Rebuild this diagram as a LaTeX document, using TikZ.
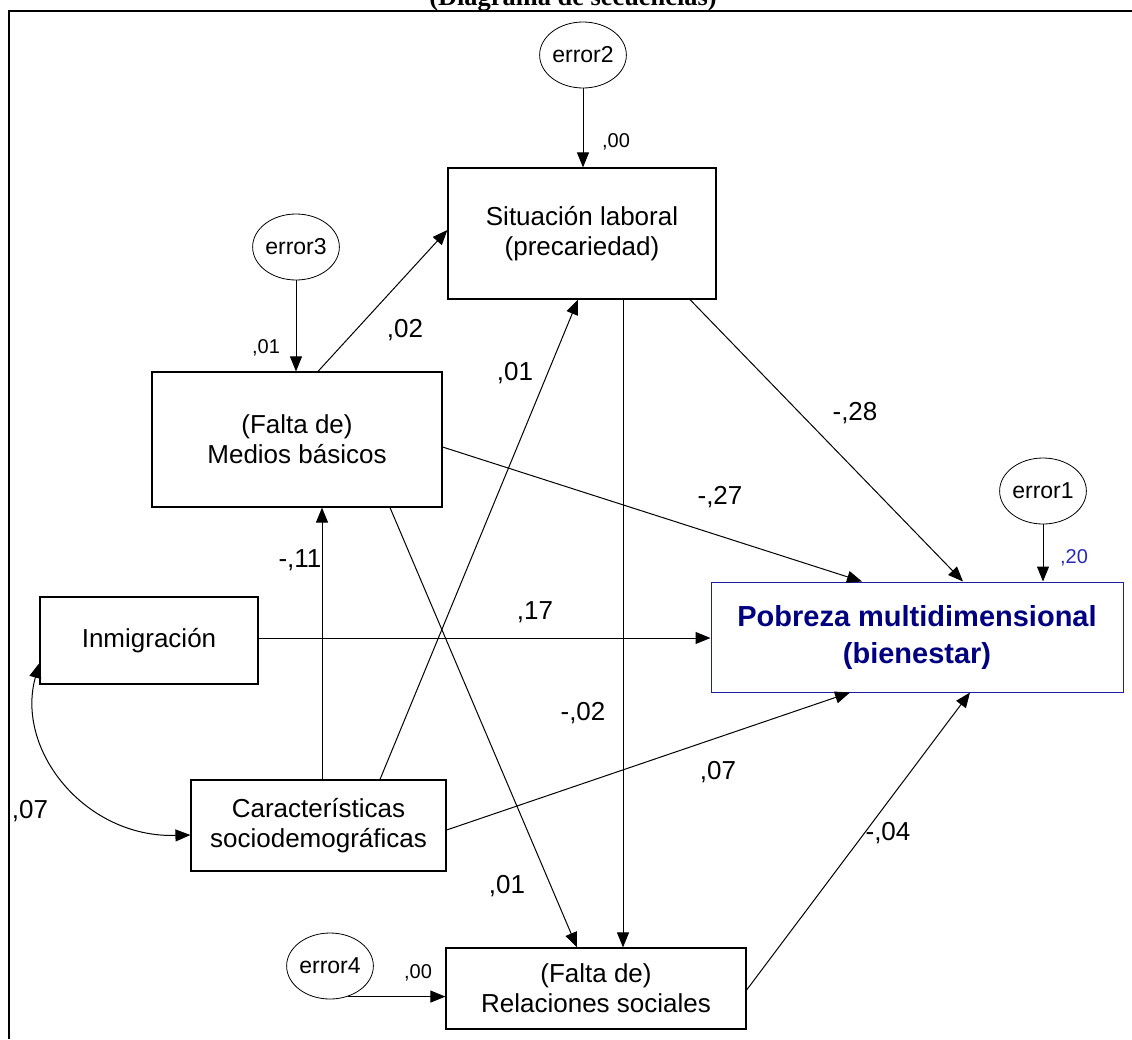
\documentclass[tikz,border=0pt]{standalone}
\usepackage{fontspec}
\setmainfont{Liberation Sans}
\newfontfamily\titlefont{Liberation Serif}
\usetikzlibrary{arrows.meta,shapes.geometric}
\definecolor{navy}{RGB}{0,0,128}
\definecolor{bordblue}{RGB}{30,30,160}
\definecolor{lblue}{RGB}{40,40,190}
\begin{document}
\begin{tikzpicture}[x=1pt,y=-1pt,
  box/.style={draw, line width=1.2pt, align=center, inner sep=0pt, font=\fontsize{26}{30}\selectfont},
  err/.style={ellipse, draw, line width=0.8pt, minimum width=82pt, minimum height=66pt, inner sep=0pt, font=\fontsize{23}{26}\selectfont},
  arr/.style={-{Triangle[length=15pt,width=12pt]}, line width=1pt},
  lab/.style={font=\fontsize{26}{30}\selectfont, inner sep=0pt},
  slab/.style={font=\fontsize{20}{24}\selectfont, inner sep=0pt}]
\useasboundingbox (0,0) rectangle (1132,1039);
\fill[white] (0,0) rectangle (1132,1039);
% title and frame
\node[anchor=base, inner sep=0pt, font=\titlefont\bfseries\fontsize{26.4}{30}\selectfont] (title) at (573,5) {(Diagrama de secuencias)};
\draw[line width=2pt] (9,1039) -- (9,11) -- (1132,11);
% boxes
\node[box, minimum width=268pt, minimum height=131pt] (sit) at (582,233.5) {Situación laboral\\(precariedad)};
\node[box, minimum width=290pt, minimum height=135pt] (med) at (297,439.5) {(Falta de)\\Medios básicos};
\node[box, minimum width=218pt, minimum height=87pt] (inm) at (149,640.5) {Inmigración};
\node[box, minimum width=255pt, minimum height=91pt] (car) at (318.5,825.5) {Características\\sociodemográficas};
\node[box, minimum width=300pt, minimum height=81pt] (rel) at (596,988.5) {(Falta de)\\Relaciones sociales};
\node[box, draw=bordblue, text=navy, line width=1pt, minimum width=412pt, minimum height=110pt, font=\bfseries\fontsize{29}{37}\selectfont] (pob) at (917,637) {Pobreza multidimensional\\(bienestar)};
% error terms
\node[err] (e2) at (583,55) {error2};
\node[err] (e3) at (296,247) {error3};
\node[err] (e1) at (1043,491) {error1};
\node[err] (e4) at (330,966) {error4};
% connectors
\draw[arr] (e2.south) -- (e2.south |- sit.north);
\draw[arr] (e3.south) -- (e3.south |- med.north);
\draw[arr] (e1.south) -- (e1.south |- pob.north);
\draw[arr] (e4.-60) -- (e4.-60 -| rel.west);
\draw[arr] ([xshift=21pt]med.north) -- ([yshift=3.5pt]sit.west);
\draw[arr] ([xshift=61.5pt]car.north) -- ([xshift=-4pt]sit.south);
\draw[arr] ([xshift=3.5pt]car.north) -- ([xshift=25pt]med.south);
\draw[arr] ([xshift=93pt]med.south) -- ([xshift=-19pt]rel.north);
\draw[arr] ([yshift=-7.5pt]med.east) -- ([xshift=-55pt]pob.north);
\draw[arr] ([xshift=108pt]sit.south) -- ([xshift=46pt]pob.north);
\draw[arr] ([yshift=2.5pt]inm.east) -- ([yshift=2.5pt]inm.east -| pob.west);
\draw[arr] ([yshift=-4.5pt]car.east) -- ([xshift=-67pt]pob.south);
\draw[arr] ([yshift=-1.5pt]rel.east) -- ([xshift=53pt]pob.south);
\draw[arr] ([xshift=41pt]sit.south) -- ([xshift=27pt]rel.north);
\draw[{Triangle[length=15pt,width=12pt]}-{Triangle[length=15pt,width=12pt]}, line width=1pt]
  ([yshift=-9.5pt]car.west) .. controls (85,838) and (15,750) .. ([yshift=-22.5pt]inm.west);
% labels
\node[slab] (l1) at (616,142) {,00};
\node[slab] (l2) at (266,348) {,01};
\node[lab] (l3) at (405,330) {,02};
\node[lab] (l4) at (515,373) {,01};
\node[lab] (l5) at (855,413) {-,28};
\node[lab] (l6) at (720,497) {-,27};
\node[slab, text=lblue] (l7) at (1074,558) {,20};
\node[lab] (l8) at (300,560) {-,11};
\node[lab] (l9) at (535,612) {,17};
\node[lab] (l10) at (583,713) {-,02};
\node[lab] (l11) at (718,772) {,07};
\node[lab] (l12) at (30,811) {,07};
\node[lab] (l13) at (888,833) {-,04};
\node[lab] (l14) at (507,886) {,01};
\node[slab] (l15) at (418,973) {,00};
\end{tikzpicture}
\end{document}
